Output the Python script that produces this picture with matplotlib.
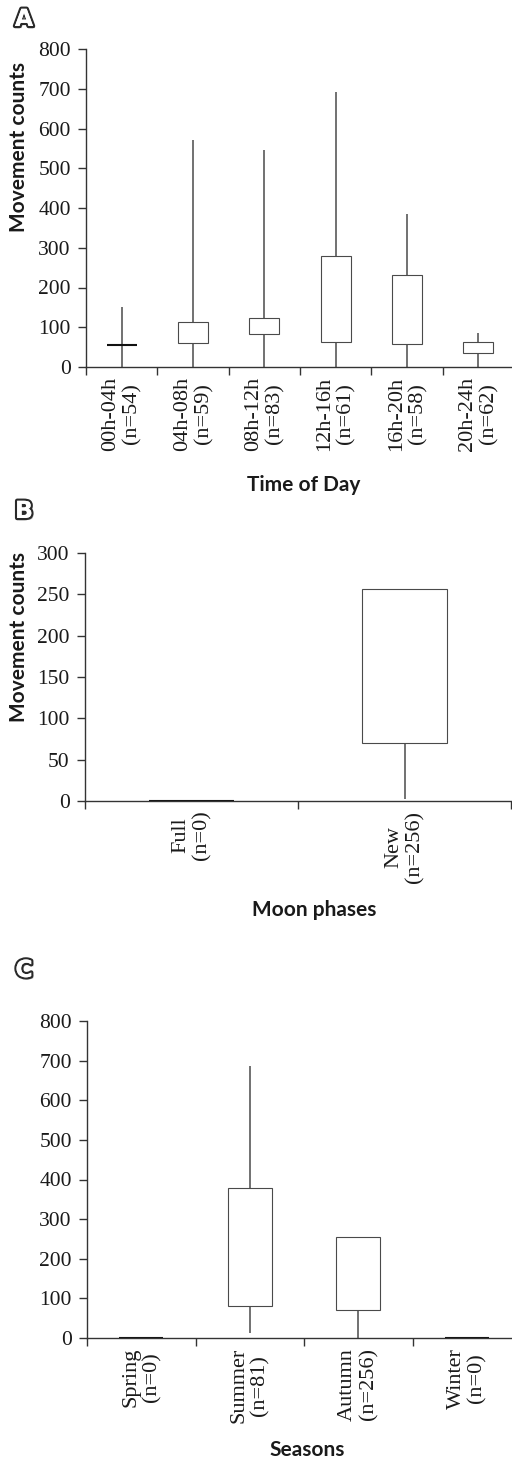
"""Movement counts by time of day, moon phase and season (high-low boxes)."""
import matplotlib
matplotlib.use("Agg")
import matplotlib.pyplot as plt
import matplotlib.patheffects as pe

# ── data ────────────────────────────────────────────────────────────────────
TOD_LABELS = ["00h-04h\n(n=54)", "04h-08h\n(n=59)", "08h-12h\n(n=83)",
              "12h-16h\n(n=61)", "16h-20h\n(n=58)", "20h-24h\n(n=62)"]
TOD_HIGH = [150, 572, 546, 692, 386, 85]
TOD_TOP  = [55, 113, 124, 280, 232, 63]
TOD_BOT  = [55, 60, 84, 63, 59, 36]
TOD_LOW  = [0, 0, 0, 0, 0, 0]

MOON_LABELS = ["Full\n(n=0)", "New\n(n=256)"]
MOON_HIGH = [0, 256]
MOON_TOP  = [0, 256]
MOON_BOT  = [0, 70]
MOON_LOW  = [0, 2]

SEASON_LABELS = ["Spring\n(n=0)", "Summer\n(n=81)", "Autumn\n(n=256)", "Winter\n(n=0)"]
SEASON_HIGH = [0, 686, 256, 0]
SEASON_TOP  = [0, 378, 256, 0]
SEASON_BOT  = [0, 80, 71, 0]
SEASON_LOW  = [0, 13, 0, 0]

W, H = 512, 1461
SERIF = "Liberation Serif"
SANS = "Lato"
INK = "#1a1a1a"
WHISK = "#666666"


def px_axes(fig, left, right, top, bottom):
    """Axes placed with pixel coordinates (origin top-left)."""
    return fig.add_axes([left / W, 1 - bottom / H, (right - left) / W, (bottom - top) / H])


def panel(ax, labels, high, top, bot, low, ymax, ystep, box_w):
    n = len(labels)
    x = list(range(n))
    ax.vlines(x, low, high, color=WHISK, lw=1.3, zorder=1)
    for xi, t, b in zip(x, top, bot):
        flat = t == b
        ax.bar(xi, t - b, bottom=b, width=box_w, facecolor="white",
               edgecolor="#111111" if flat else "#4a4a4a",
               lw=1.5 if flat else 0.8, zorder=2)
    ax.set_xlim(-0.5, n - 0.5)
    ax.set_ylim(0, ymax)
    ax.set_yticks(range(0, ymax + 1, ystep))
    ax.set_xticks(x)
    ax.set_xticklabels(labels)
    ax.set_xticks([i - 0.5 for i in range(n + 1)], minor=True)
    ax.tick_params(axis="x", which="major", length=0, pad=7, labelsize=16)
    ax.tick_params(axis="x", which="minor", length=6, width=1, color="#333")
    ax.tick_params(axis="y", length=6, width=1, color="#333", pad=5,
                   labelsize=15.5, labelcolor=INK)
    for lab in ax.get_xticklabels():
        lab.set_fontfamily(SERIF)
        lab.set_fontsize(16)
        lab.set_rotation(90)
        lab.set_color(INK)
        lab.set_multialignment("center")
        lab.set_linespacing(1.15)
    for lab in ax.get_yticklabels():
        lab.set_fontfamily(SERIF)
    for side in ("top", "right"):
        ax.spines[side].set_visible(False)
    for side in ("left", "bottom"):
        ax.spines[side].set_color("#333")
        ax.spines[side].set_linewidth(1.0)
    ax.patch.set_alpha(0)


def letter(fig, s, x, y):
    fig.text(x / W, 1 - y / H, s, fontsize=17, fontweight="bold", family="DejaVu Sans",
             color="white", ha="center", va="center",
             path_effects=[pe.SimplePatchShadow(offset=(1.5, -1.5), shadow_rgbFace="#777", alpha=0.7),
                           pe.withStroke(linewidth=3.2, foreground="#2a2a2a"),
                           pe.Normal()])


def axis_title(fig, s, x, y, rot=0):
    fig.text(x / W, 1 - y / H, s, fontsize=15, fontweight="bold", family=SANS,
             color=INK, ha="center", va="center", rotation=rot)


fig = plt.figure(figsize=(W / 100, H / 100), dpi=100)
fig.patch.set_facecolor("white")

# A: time of day
ax_a = px_axes(fig, 86, 514, 49, 367)
panel(ax_a, TOD_LABELS, TOD_HIGH, TOD_TOP, TOD_BOT, TOD_LOW, 800, 100, 0.42)
letter(fig, "A", 24, 19)
axis_title(fig, "Movement counts", 19, 147, rot=90)
axis_title(fig, "Time of Day", 304, 485)

# B: moon phases
ax_b = px_axes(fig, 85, 511, 553, 801)
panel(ax_b, MOON_LABELS, MOON_HIGH, MOON_TOP, MOON_BOT, MOON_LOW, 300, 50, 0.4)
letter(fig, "B", 24, 511)
axis_title(fig, "Movement counts", 19, 637, rot=90)
axis_title(fig, "Moon phases", 314, 910)

# C: seasons
ax_c = px_axes(fig, 87, 521, 1021, 1338)
panel(ax_c, SEASON_LABELS, SEASON_HIGH, SEASON_TOP, SEASON_BOT, SEASON_LOW, 800, 100, 0.405)
letter(fig, "C", 24, 970)
axis_title(fig, "Seasons", 307, 1450)

fig.savefig("out.png", dpi=100, facecolor="white")
